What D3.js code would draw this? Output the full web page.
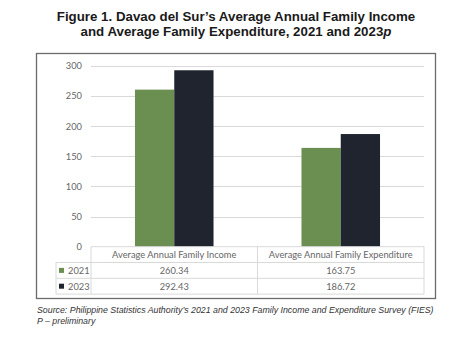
<!DOCTYPE html>
<html>
<head>
<meta charset="utf-8">
<script src="https://cdn.jsdelivr.net/npm/d3@7"></script>
<style>
  html, body { margin: 0; padding: 0; background: #fff; }
  svg { display: block; }
</style>
</head>
<body>
<svg id="chart" width="474" height="340"></svg>
<script>
// Figure data
const categories = ["Average Annual Family Income", "Average Annual Family Expenditure"];
const seriesNames = ["2021", "2023"];
const values2021 = [260.34, 163.75];
const values2023 = [292.43, 186.72];
const yTicks = [0, 50, 100, 150, 200, 250, 300];
const titleLines = [
  "Figure 1. Davao del Sur\u2019s Average Annual Family Income",
  "and Average Family Expenditure, 2021 and 2023"
];
const sourceLines = [
  "Source: Philippine Statistics Authority\u2019s 2021 and 2023 Family Income and Expenditure Survey (FIES)",
  "P \u2013 preliminary"
];

const seriesValues = [values2021, values2023];
const colors = ["#6b8f50", "#1f242e"];

const svg = d3.select("#chart");
const uiFont = "Lato, 'Open Sans', sans-serif";
const uiSize = 9.3;
const textGray = "#666";
const lineGray = "#d9d9d9";

// Title
const title = svg.append("text")
  .attr("text-anchor", "middle")
  .attr("font-family", "'Liberation Sans', Arial, sans-serif")
  .attr("font-weight", "bold")
  .attr("font-size", 13.3)
  .attr("fill", "#1a1a1a");
title.append("tspan").attr("x", 236).attr("y", 21).text(titleLines[0]);
const t2 = title.append("tspan").attr("x", 236).attr("y", 36).text(titleLines[1]);
t2.append("tspan").attr("font-style", "italic").text("p");

// Chart frame
svg.append("rect")
  .attr("x", 36.5).attr("y", 53.5)
  .attr("width", 399).attr("height", 245)
  .attr("fill", "#fff")
  .attr("stroke", "#6b6b6b")
  .attr("stroke-width", 1.3);

// Scales
const plotLeft = 91, plotRight = 424;
const y = d3.scaleLinear().domain([0, 300]).range([246.7, 65.7]);
const x0 = d3.scaleBand().domain(categories).range([plotLeft, plotRight]).padding(0);
const x1 = d3.scaleBand().domain(seriesNames).range([0, x0.bandwidth()])
  .paddingInner(0).paddingOuter(1.12);

// Gridlines
svg.append("g")
  .selectAll("line")
  .data(yTicks.filter(d => d > 0))
  .join("line")
  .attr("x1", plotLeft).attr("x2", plotRight)
  .attr("y1", d => Math.round(y(d)) + 0.5)
  .attr("y2", d => Math.round(y(d)) + 0.5)
  .attr("stroke", lineGray)
  .attr("stroke-width", 1);

// Y axis labels
const yAxis = d3.axisLeft(y).tickValues(yTicks).tickSize(0).tickPadding(0);
const yg = svg.append("g").attr("transform", "translate(82,0)").call(yAxis);
yg.select(".domain").remove();
yg.selectAll("text")
  .attr("font-family", uiFont)
  .attr("font-size", uiSize)
  .attr("fill", textGray);

// Bars
const groups = svg.append("g")
  .selectAll("g")
  .data(categories)
  .join("g")
  .attr("transform", d => `translate(${x0(d)},0)`);

groups.selectAll("rect")
  .data((c, ci) => seriesNames.map((s, si) => ({ s, si, v: seriesValues[si][ci] })))
  .join("rect")
  .attr("x", d => x1(d.s))
  .attr("width", x1.bandwidth())
  .attr("y", d => y(d.v))
  .attr("height", d => y(0) - y(d.v))
  .attr("fill", d => colors[d.si]);

// Data table
const tableTop = y(0);
const rowH = 15.8;
const tableLeft = 56;
const table = svg.append("g");
const hLines = [
  { y: tableTop, x1: plotLeft },
  { y: tableTop + rowH, x1: tableLeft },
  { y: tableTop + 2 * rowH, x1: tableLeft },
  { y: tableTop + 3 * rowH, x1: tableLeft }
];
table.selectAll("line.h")
  .data(hLines)
  .join("line")
  .attr("class", "h")
  .attr("x1", d => d.x1).attr("x2", plotRight)
  .attr("y1", d => d.y).attr("y2", d => d.y)
  .attr("stroke", lineGray);

const vLines = [
  { x: tableLeft, y1: tableTop + rowH },
  { x: plotLeft, y1: tableTop },
  { x: x0(categories[1]), y1: tableTop },
  { x: plotRight, y1: tableTop }
];
table.selectAll("line.v")
  .data(vLines)
  .join("line")
  .attr("class", "v")
  .attr("x1", d => d.x).attr("x2", d => d.x)
  .attr("y1", d => d.y1).attr("y2", tableTop + 3 * rowH)
  .attr("stroke", lineGray);

// Header row: category names
table.selectAll("text.cat")
  .data(categories)
  .join("text")
  .attr("class", "cat")
  .attr("x", d => x0(d) + x0.bandwidth() / 2)
  .attr("y", tableTop + rowH / 2 + 3.3)
  .attr("text-anchor", "middle")
  .attr("font-family", uiFont)
  .attr("font-size", uiSize)
  .attr("fill", textGray)
  .text(d => d);

// Series rows: legend key, name, values
seriesNames.forEach((s, si) => {
  const rowMid = tableTop + rowH * (si + 1) + rowH / 2;
  table.append("rect")
    .attr("x", 59).attr("y", rowMid - 2.5)
    .attr("width", 5).attr("height", 5)
    .attr("fill", colors[si]);
  table.append("text")
    .attr("x", 68).attr("y", rowMid + 3.3)
    .attr("font-family", uiFont)
    .attr("font-size", uiSize)
    .attr("fill", textGray)
    .text(s);
  table.selectAll(null)
    .data(categories)
    .join("text")
    .attr("x", d => x0(d) + x0.bandwidth() / 2)
    .attr("y", rowMid + 3.3)
    .attr("text-anchor", "middle")
    .attr("font-family", uiFont)
    .attr("font-size", uiSize)
    .attr("fill", textGray)
    .text((d, ci) => d3.format(".2f")(seriesValues[si][ci]));
});

// Source note
const src = svg.append("text")
  .attr("font-family", "'Liberation Sans', Arial, sans-serif")
  .attr("font-style", "italic")
  .attr("font-size", 8.8)
  .attr("fill", "#333");
src.append("tspan").attr("x", 37).attr("y", 312.5).text(sourceLines[0]);
src.append("tspan").attr("x", 37).attr("y", 323.5).text(sourceLines[1]);
</script>
</body>
</html>
